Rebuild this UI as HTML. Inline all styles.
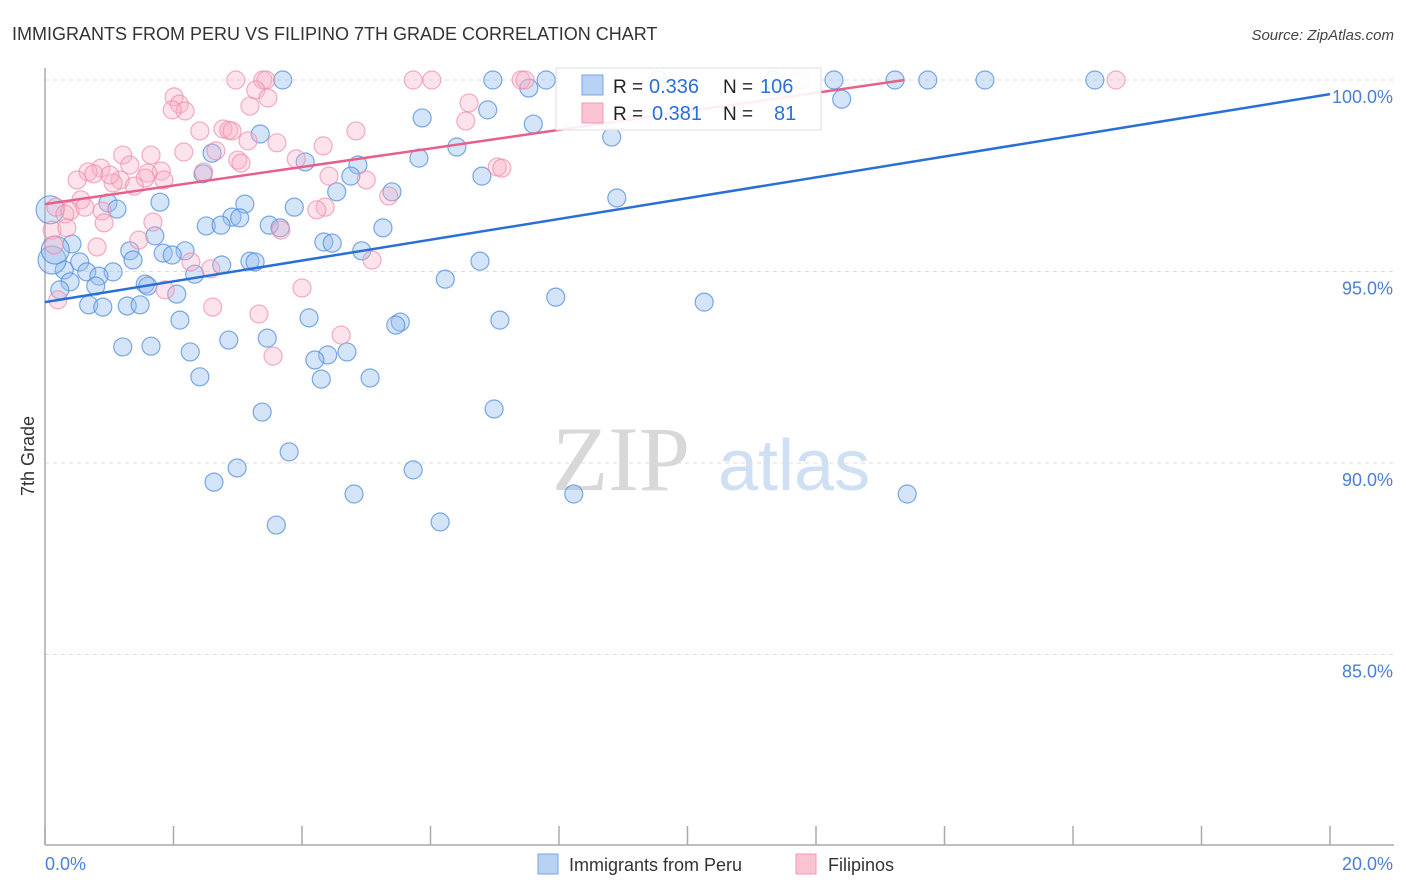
<!DOCTYPE html>
<html><head><meta charset="utf-8"><style>
body{margin:0;background:#fff;font-family:"Liberation Sans",sans-serif;}
#wrap{position:relative;width:1406px;height:892px;overflow:hidden;}
</style></head><body>
<div id="wrap">
<svg id="chart" width="1406" height="892"></svg>
</div>
<script>
const blueX=[3.70,6.97,7.80,9.54,11.33,12.28,13.23,13.74,14.63,16.34,7.53,12.40,6.89,5.87,7.60,8.82,3.35,2.60,6.41,5.82,4.05,4.87,2.46,6.80,4.76,4.54,5.40,8.90,1.79,3.11,0.98,1.12,3.88,2.91,3.03,2.51,2.74,3.49,3.66,5.26,1.71,4.34,4.47,0.42,1.32,1.84,2.18,1.98,4.93,1.37,3.19,3.27,2.75,0.54,6.77,0.30,0.65,1.06,0.84,2.33,0.39,0.79,1.56,0.23,1.60,2.05,7.95,6.23,10.26,0.68,0.90,1.28,1.48,2.10,4.11,7.08,5.53,5.46,1.21,1.65,2.86,3.46,2.26,4.40,4.70,4.20,2.41,4.30,5.06,3.38,6.99,3.80,2.99,2.63,5.73,4.81,8.23,13.42,6.15,3.60,0.08,0.11,0.16];
const blueY=[100,100,100,100,100,100,100,100,100,100,99.79,99.50,99.22,99.01,98.85,98.51,98.59,98.09,98.25,97.96,97.86,97.78,97.55,97.49,97.49,97.08,97.08,96.92,96.81,96.76,96.79,96.63,96.68,96.42,96.40,96.19,96.21,96.21,96.14,96.14,95.93,95.77,95.74,95.72,95.54,95.48,95.54,95.43,95.54,95.30,95.27,95.25,95.17,95.25,95.27,95.04,94.99,94.99,94.88,94.93,94.73,94.62,94.67,94.52,94.62,94.41,94.33,94.80,94.20,94.13,94.07,94.10,94.13,93.73,93.79,93.73,93.68,93.60,93.03,93.05,93.21,93.26,92.90,92.82,92.90,92.69,92.25,92.19,92.22,91.33,91.41,90.29,89.87,89.50,89.82,89.19,89.19,89.19,88.46,88.38,96.61,95.30,95.56];
const blueR=blueX.map((v,i)=>i>=100?14:9);
const pinkX=[2.97,3.39,3.44,5.73,6.02,7.41,7.47,11.75,16.67,3.28,2.01,3.47,2.09,2.18,1.98,3.19,6.60,6.55,2.41,2.77,2.86,2.91,3.61,4.84,2.66,3.16,4.33,2.16,1.65,1.21,1.32,0.87,0.67,1.81,3.00,3.05,3.91,2.47,1.60,1.56,1.17,1.06,0.76,0.50,1.01,1.39,1.85,4.42,5.00,7.04,7.11,5.35,0.56,0.17,0.39,0.89,4.36,4.23,0.62,0.31,1.68,0.92,3.67,0.11,0.34,1.46,0.81,0.14,5.09,2.27,2.58,4.00,1.87,2.61,3.33,0.20,4.61,3.55];
const pinkY=[100,100,100,100,100,100,100,100,100,99.74,99.56,99.53,99.37,99.19,99.22,99.32,99.40,98.93,98.67,98.72,98.69,98.67,98.36,98.67,98.15,98.41,98.28,98.12,98.04,98.04,97.78,97.70,97.60,97.62,97.91,97.83,97.94,97.60,97.57,97.44,97.39,97.31,97.55,97.39,97.52,97.23,97.39,97.49,97.39,97.73,97.70,96.97,96.87,96.68,96.58,96.58,96.68,96.61,96.68,96.50,96.29,96.27,96.08,96.08,96.14,95.82,95.64,95.69,95.30,95.25,95.07,94.57,94.52,94.07,93.89,94.26,93.34,92.79];
const blueLine=[[0,94.2],[20,99.63]];
const pinkLine=[[0,96.76],[13.38,100]];
const yTicks=[100,95,90,85];
const yTickLabels=["100.0%","95.0%","90.0%","85.0%"];
const xTicks=[0,2,4,6,8,10,12,14,16,18,20];

const NS="http://www.w3.org/2000/svg";
const svg=document.getElementById('chart');
const X=v=>45+v/20*1285;
const Y=v=>80+(100-v)*38.3;
function el(t,a,txt){const e=document.createElementNS(NS,t);for(const k in a)e.setAttribute(k,a[k]);if(txt!==undefined)e.textContent=txt;svg.appendChild(e);return e;}

let e;
e=el('text',{x:12,y:40,'font-size':18,fill:'#333'},'IMMIGRANTS FROM PERU VS FILIPINO 7TH GRADE CORRELATION CHART');


e=el('text',{x:1394,y:40,'font-size':15,fill:'#444','font-style':'italic','text-anchor':'end'},'Source: ZipAtlas.com');



// watermark
e=el('text',{x:552,y:490,'font-size':92,fill:'#d8d8d8','font-family':'Liberation Serif, serif'},'ZIP');


e=el('text',{x:718,y:490,'font-size':72,fill:'#cfe0f5'},'atlas');



yTicks.forEach((v,i)=>{
  e=el('line',{x1:45,x2:1394,y1:Y(v),y2:Y(v),stroke:'#ddd','stroke-dasharray':'4,4'});
  
  
  e=el('text',{x:1393,y:Y(v)+23,'font-size':18,fill:'#4a7fd6','text-anchor':'end'},yTickLabels[i]);
  
  
});
e=el('line',{x1:45,x2:45,y1:68,y2:845,stroke:'#aaa','stroke-width':1.5});


e=el('line',{x1:45,x2:1394,y1:845,y2:845,stroke:'#aaa','stroke-width':1.5});


xTicks.forEach(v=>{
  e=el('line',{x1:X(v),x2:X(v),y1:826,y2:845,stroke:'#aaa','stroke-width':1.5});
  
  
});
e=el('text',{x:45,y:870,'font-size':18,fill:'#4a7fd6'},'0.0%');


e=el('text',{x:1393,y:870,'font-size':18,fill:'#4a7fd6','text-anchor':'end'},'20.0%');


e=el('text',{x:34,y:456,'font-size':18,fill:'#333','text-anchor':'middle',transform:'rotate(-90 34 456)'},'7th Grade');



blueX.forEach((v,i)=>{
  e=el('circle',{cx:X(v),cy:Y(blueY[i]),r:blueR[i],fill:'rgba(150,190,240,0.4)',stroke:'rgba(80,140,220,0.75)','stroke-width':1.2});
  
  
});
pinkX.forEach((v,i)=>{
  e=el('circle',{cx:X(v),cy:Y(pinkY[i]),r:9,fill:'rgba(248,175,198,0.35)',stroke:'rgba(238,140,170,0.7)','stroke-width':1.2});
  
  
});
e=el('line',{x1:X(blueLine[0][0]),y1:Y(blueLine[0][1]),x2:X(blueLine[1][0]),y2:Y(blueLine[1][1]),stroke:'#2a6fd6','stroke-width':2.5});


e=el('line',{x1:X(pinkLine[0][0]),y1:Y(pinkLine[0][1]),x2:X(pinkLine[1][0]),y2:Y(pinkLine[1][1]),stroke:'#e8608a','stroke-width':2.5});



// stats legend
e=el('rect',{x:556,y:68,width:265,height:62,fill:'rgba(255,255,255,0.9)',stroke:'#ddd'});


e=el('rect',{x:582,y:75,width:21,height:20,fill:'#b8d2f4',stroke:'#7aa6e2'});


e=el('rect',{x:582,y:103,width:21,height:20,fill:'#fbc4d2',stroke:'#f09ab3'});


e=el('text',{x:613,y:93,'font-size':19,fill:'#222'},'R = ');


e=el('text',{x:649,y:93,'font-size':20,fill:'#2a6fd6'},'0.336');


e=el('text',{x:723,y:93,'font-size':19,fill:'#222'},'N = ');


e=el('text',{x:760,y:93,'font-size':20,fill:'#2a6fd6'},'106');


e=el('text',{x:613,y:120,'font-size':19,fill:'#222'},'R = ');


e=el('text',{x:652,y:120,'font-size':20,fill:'#2a6fd6'},'0.381');


e=el('text',{x:723,y:120,'font-size':19,fill:'#222'},'N = ');


e=el('text',{x:774,y:120,'font-size':20,fill:'#2a6fd6'},'81');



// bottom legend
e=el('rect',{x:538,y:854,width:20,height:20,fill:'#b8d2f4',stroke:'#7aa6e2'});


e=el('text',{x:569,y:871,'font-size':18,fill:'#333'},'Immigrants from Peru');


e=el('rect',{x:796,y:854,width:20,height:20,fill:'#fbc4d2',stroke:'#f09ab3'});


e=el('text',{x:828,y:871,'font-size':18,fill:'#333'},'Filipinos');


</script>
</body></html>
